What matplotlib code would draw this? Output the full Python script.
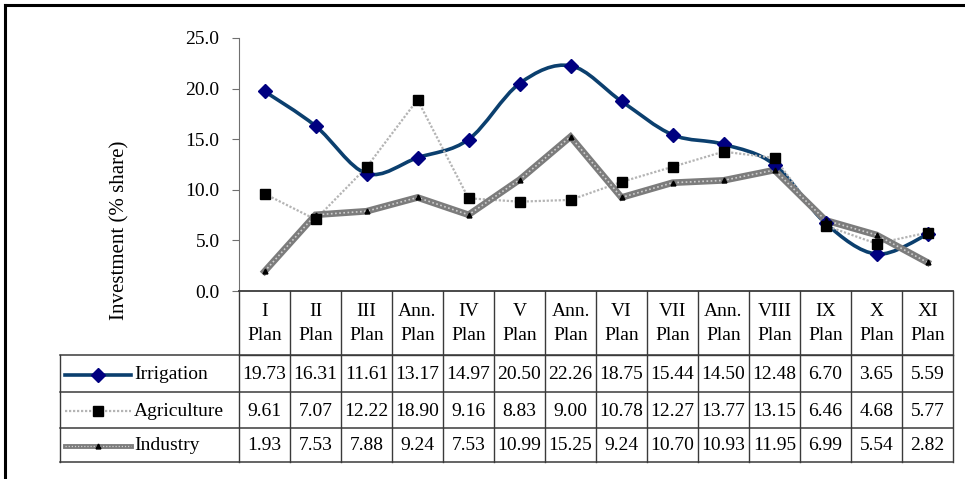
import numpy as np
import matplotlib
matplotlib.use("Agg")
import matplotlib.pyplot as plt
from matplotlib.path import Path
from matplotlib.patches import PathPatch
from matplotlib.lines import Line2D

plt.rcParams['font.family'] = ['Liberation Serif', 'DejaVu Serif']

plans = ["I", "II", "III", "Ann.", "IV", "V", "Ann.", "VI", "VII", "Ann.",
         "VIII", "IX", "X", "XI"]
irrigation = [19.73, 16.31, 11.61, 13.17, 14.97, 20.50, 22.26, 18.75, 15.44,
              14.50, 12.48, 6.70, 3.65, 5.59]
agriculture = [9.61, 7.07, 12.22, 18.90, 9.16, 8.83, 9.00, 10.78, 12.27,
               13.77, 13.15, 6.46, 4.68, 5.77]
industry = [1.93, 7.53, 7.88, 9.24, 7.53, 10.99, 15.25, 9.24, 10.70, 10.93,
            11.95, 6.99, 5.54, 2.82]
series_names = ["Irrigation", "Agriculture", "Industry"]

W, H = 965, 479
navy = "#0b3f6e"
mark_navy = "#000080"
grid = "#3a3a3a"
FS = 14

# pixel layout of the plot area and the data table below it
x0, x1 = 239, 953
y_top, y_zero = 38, 291
head_bot = 355
row_lines = [355, 392, 428, 462]
leg_left = 60
col_w = (x1 - x0) / len(plans)

agri_col = "#b4b4b4"
ind_col = "#7c7c7c"


def smooth_path(xs, ys):
    # cubic bezier through every point, like a spreadsheet "smoothed line"
    pts = np.column_stack([xs, ys])
    n = len(pts)
    verts = [pts[0]]
    codes = [Path.MOVETO]
    for i in range(n - 1):
        p0 = pts[max(i - 1, 0)]
        p1 = pts[i]
        p2 = pts[i + 1]
        p3 = pts[min(i + 2, n - 1)]
        c1 = p1 + (p2 - p0) / 6.0
        c2 = p2 - (p3 - p1) / 6.0
        verts += [c1, c2, p2]
        codes += [Path.CURVE4] * 3
    return Path(verts, codes)


fig = plt.figure(figsize=(W / 100, H / 100), dpi=100)

# overlay in pixel units for the frame and the table
ov = fig.add_axes([0, 0, 1, 1])
ov.set_xlim(0, W)
ov.set_ylim(H, 0)
ov.axis("off")

ov.add_line(Line2D([5, W], [5, 5], color="black", lw=2.2))
ov.add_line(Line2D([5, 5], [5, H], color="black", lw=2.2))

# horizontal table rules
ov.add_line(Line2D([x0, x1], [head_bot, head_bot], color=grid, lw=1))
for y in row_lines:
    ov.add_line(Line2D([leg_left, x1], [y, y], color=grid, lw=1.1))
# vertical table rules
for i in range(len(plans) + 1):
    xv = x0 + i * col_w
    ov.add_line(Line2D([xv, xv], [y_zero, row_lines[-1]], color=grid, lw=1))
ov.add_line(Line2D([leg_left, leg_left], [row_lines[0], row_lines[-1]],
                   color=grid, lw=1))

# column headers
for i, p in enumerate(plans):
    cx = x0 + (i + 0.5) * col_w
    ov.text(cx, 311, p, ha="center", va="center", fontsize=FS)
    ov.text(cx, 336, "Plan", ha="center", va="center", fontsize=FS)

# value rows
for r, vals in enumerate([irrigation, agriculture, industry]):
    cy = (row_lines[r] + row_lines[r + 1]) / 2 + 1
    for i, v in enumerate(vals):
        cx = x0 + (i + 0.5) * col_w
        ov.text(cx, cy, f"{v:.2f}", ha="center", va="center", fontsize=FS)

# legend keys inside the table
styles = [
    dict(color=navy, lw=2.6, marker="D", mfc=mark_navy, mec=mark_navy, ms=7),
    dict(color=agri_col, lw=1.6, ls=(0, (1, 0.8)), marker="s", mfc="black",
         mec="black", ms=7.5),
    dict(color=ind_col, lw=3.5, marker="^", mfc="black", mec="black", ms=3.5),
]
for r, (name, st) in enumerate(zip(series_names, styles)):
    cy = (row_lines[r] + row_lines[r + 1]) / 2 + 1
    line_kw = {k: v for k, v in st.items() if k in ("color", "lw", "ls")}
    ov.add_line(Line2D([65, 131], [cy, cy], **line_kw))
    if r == 2:
        ov.add_line(Line2D([65, 131], [cy, cy], color="#d0d0d0", lw=0.9,
                           ls=(0, (1, 1.5))))
    ov.plot([98], [cy], ls="none", marker=st["marker"], mfc=st["mfc"],
            mec=st["mec"], ms=st["ms"])
    ov.text(134, cy, name, ha="left", va="center", fontsize=FS)

ov.text(120, 230, "Investment (% share)", rotation=90, ha="center",
        va="center", fontsize=15)

# main chart area
ax = fig.add_axes([x0 / W, 1 - y_zero / H, (x1 - x0) / W,
                   (y_zero - y_top) / H])
ax.set_xlim(-0.5, len(plans) - 0.5)
ax.set_ylim(0, 25)
ax.patch.set_alpha(0)
for s in ("top", "right"):
    ax.spines[s].set_visible(False)
ax.spines["left"].set_color("#707070")
ax.spines["bottom"].set_color(grid)
ax.spines["bottom"].set_linewidth(1.3)
ax.set_xticks([])
ax.set_yticks(np.arange(0, 26, 5))
ax.set_yticklabels([f"{v:.1f}" for v in np.arange(0, 26, 5)], fontsize=FS)
ax.tick_params(axis="y", length=5, color="#707070", pad=9)

xs = np.arange(len(plans))

ax.add_patch(PathPatch(smooth_path(xs, irrigation), fc="none", ec=navy,
                       lw=2.6, zorder=2, capstyle="round"))
ax.plot(xs, agriculture, color=agri_col, lw=1.6, ls=(0, (1, 0.8)), zorder=3)
ax.plot(xs, industry, color=ind_col, lw=4.8, zorder=4, solid_joinstyle="miter")
ax.plot(xs, industry, color="#cfcfcf", lw=1.2, ls=(0, (1, 1.5)), zorder=4)

ax.plot(xs, irrigation, ls="none", marker="D", mfc=mark_navy, mec=mark_navy,
        ms=7, zorder=5)
ax.plot(xs, agriculture, ls="none", marker="s", mfc="black", mec="black",
        ms=7.5, zorder=6)
ax.plot(xs, industry, ls="none", marker="^", mfc="black", mec="black",
        ms=3.5, zorder=7)

fig.savefig("out.png", dpi=100)
